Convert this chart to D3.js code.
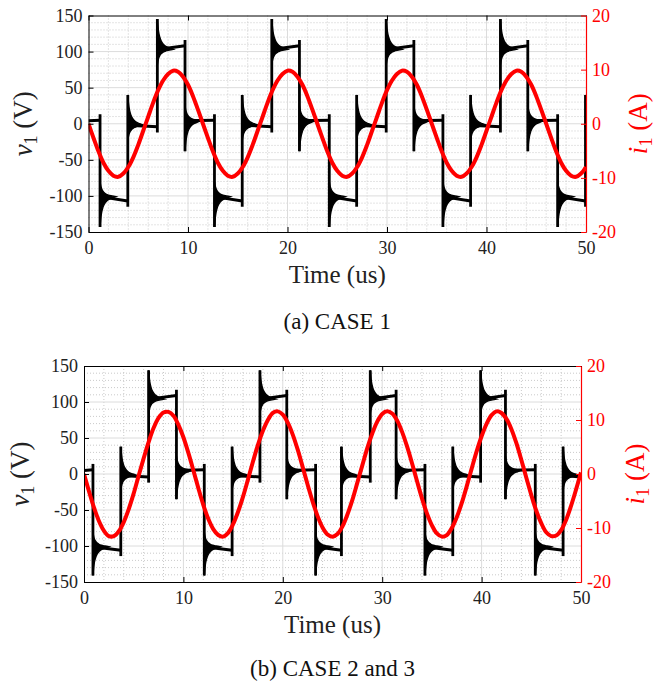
<!DOCTYPE html>
<html>
<head>
<meta charset="utf-8">
<script src="https://cdn.jsdelivr.net/npm/d3@7"></script>
<style>
  body { margin: 0; background: #fff; }
  svg { display: block; }
  text { font-family: "Liberation Serif", "DejaVu Serif", serif; }
</style>
</head>
<body>
<svg id="Target" width="656" height="683"></svg>
<script>
// Axis ticks shared by both panels
const timeTicks = [0, 10, 20, 30, 40, 50];
const voltTicks = [-150, -100, -50, 0, 50, 100, 150];
const currTicks = [-20, -10, 0, 10, 20];

// Current samples are read every 0.5 us from 0 to 50 us
const sampleStep = 0.5;

// CASE 1: i1 (A)
const current1 = [
  0, -2.6, -5.1, -7.2, -8.7, -9.6, -9.8, -9.2, -8.0, -6.2, -3.9, -1.3, 1.3, 3.9, 6.2, 8.0, 9.2, 9.8, 9.6, 8.7, 7.2, 5.1, 2.6,
  0, -2.6, -5.1, -7.2, -8.7, -9.6, -9.8, -9.2, -8.0, -6.2, -3.9, -1.3, 1.3, 3.9, 6.2, 8.0, 9.2, 9.8, 9.6, 8.7, 7.2, 5.1, 2.6,
  0, -2.6, -5.1, -7.2, -8.7, -9.6, -9.8, -9.2, -8.0, -6.2, -3.9, -1.3, 1.3, 3.9, 6.2, 8.0, 9.2, 9.8, 9.6, 8.7, 7.2, 5.1, 2.6,
  0, -2.6, -5.1, -7.2, -8.7, -9.6, -9.8, -9.2, -8.0, -6.2, -3.9, -1.3, 1.3, 3.9, 6.2, 8.0, 9.2, 9.8, 9.6, 8.7, 7.2, 5.1, 2.6,
  0, -2.6, -5.1, -7.2, -8.7, -9.6, -9.8, -9.2, -8.0
];

// CASE 2 and 3: i1 (A)
const current2 = [
  0, -3.2, -6.2, -8.7, -10.5, -11.5, -11.5, -10.6, -8.9, -6.5, -3.6, -0.3, 2.9, 5.9, 8.5, 10.4, 11.4, 11.5, 10.8, 9.1,
  6.8, 3.9, 0.7, -2.6, -5.7, -8.3, -10.2, -11.3, -11.6, -10.9, -9.3, -7.0, -4.2, -1.0, 2.3, 5.4, 8.0, 10.0, 11.3, 11.6,
  11.0, 9.5, 7.3, 4.5, 1.3, -2.0, -5.1, -7.8, -9.9, -11.2, -11.6, -11.1, -9.7, -7.5, -4.8, -1.6, 1.6, 4.8, 7.5, 9.7,
  11.1, 11.6, 11.2, 9.9, 7.8, 5.1, 2.0, -1.3, -4.5, -7.3, -9.5, -11.0, -11.6, -11.3, -10.0, -8.0, -5.4, -2.3, 1.0, 4.2,
  7.0, 9.3, 10.9, 11.6, 11.3, 10.2, 8.3, 5.7, 2.6, -0.7, -3.9, -6.8, -9.1, -10.8, -11.5, -11.4, -10.4, -8.5, -5.9, -2.9,
  0.3
];

// Switching instants of v1 (us)
const edges1 = [1.16, 3.95, 6.92, 9.7, 12.66, 15.45, 18.42, 21.2, 24.2, 26.95,
  29.92, 32.7, 35.62, 38.4, 41.4, 44.15, 47.15, 49.95];
const edges2 = [0.9, 3.7, 6.5, 9.3, 12.1, 14.9, 17.7, 20.4, 23.3, 25.9,
  28.8, 31.4, 34.3, 37.1, 39.9, 42.4, 45.4, 48.2];

// Plateau level (V) at start / end of each state: zero (after fall), negative, zero (after rise), positive
const plateau1 = [[4, 5], [-101, -107], [-2, -4], [103, 108]];
const plateau2 = [[5, 6], [-101, -106], [-2, -4], [104, 109]];

// Overshoot at each switching edge (V)
const overshoot1 = 42;
const overshoot2 = 40;

// Decay of the ringing envelope after an edge
const ringOffsets = [0, 0.05, 0.12, 0.25, 0.4, 0.6, 0.85, 1.2, 1.6];
const ringDecay = [1, 0.8, 0.6, 0.4, 0.27, 0.17, 0.1, 0.05, 0];

const panels = [
  { left: 88.5, right: 586, top: 15.5, bottom: 232, edges: edges1, plateau: plateau1,
    overshoot: overshoot1, current: current1, caption: "(a) CASE 1", captionY: 329,
    vLabelX: 32, iLabelX: 647 },
  { left: 84, right: 581, top: 366, bottom: 582, edges: edges2, plateau: plateau2,
    overshoot: overshoot2, current: current2, caption: "(b) CASE 2 and 3", captionY: 676,
    vLabelX: 29, iLabelX: 644 }
];

const svg = d3.select("#Target");
const red = "#ff0000";
const serif = "'Liberation Serif', 'DejaVu Serif', serif";

panels.forEach((p, idx) => {
  const x = d3.scaleLinear().domain([0, 50]).range([p.left, p.right]);
  const yV = d3.scaleLinear().domain([-150, 150]).range([p.bottom, p.top]);
  const yI = d3.scaleLinear().domain([-20, 20]).range([p.bottom, p.top]);
  const midY = (p.top + p.bottom) / 2;

  const clipId = "clip" + idx;
  svg.append("clipPath").attr("id", clipId)
    .append("rect")
    .attr("x", p.left).attr("y", p.top)
    .attr("width", p.right - p.left).attr("height", p.bottom - p.top);

  const g = svg.append("g").attr("font-family", serif);

  // Minor grid, dotted
  const minorT = d3.range(0, 50.01, 2).filter(t => t % 10 !== 0);
  const minorV = d3.range(-150, 150.01, 10).filter(v => v % 50 !== 0);
  const grid = g.append("g");
  grid.selectAll("line.mt").data(minorT).join("line")
    .attr("x1", d => x(d)).attr("x2", d => x(d))
    .attr("y1", p.top).attr("y2", p.bottom)
    .attr("stroke", "#bdbdbd").attr("stroke-width", 0.8).attr("stroke-dasharray", "1,2");
  grid.selectAll("line.mv").data(minorV).join("line")
    .attr("x1", p.left).attr("x2", p.right)
    .attr("y1", d => yV(d)).attr("y2", d => yV(d))
    .attr("stroke", "#bdbdbd").attr("stroke-width", 0.8).attr("stroke-dasharray", "1,2");

  // Major grid, light solid
  grid.selectAll("line.jt").data(timeTicks.slice(1, -1)).join("line")
    .attr("x1", d => x(d)).attr("x2", d => x(d))
    .attr("y1", p.top).attr("y2", p.bottom)
    .attr("stroke", "#dcdcdc").attr("stroke-width", 1);
  grid.selectAll("line.jv").data(voltTicks.slice(1, -1)).join("line")
    .attr("x1", p.left).attr("x2", p.right)
    .attr("y1", d => yV(d)).attr("y2", d => yV(d))
    .attr("stroke", "#dcdcdc").attr("stroke-width", 1);

  // v1 waveform: plateaus, switching edges and ringing envelopes
  const wave = g.append("g").attr("clip-path", `url(#${clipId})`);
  const bounds = [0, ...p.edges, 50];
  const plateaus = bounds.slice(0, -1).map((t0, k) => {
    const [a, b] = p.plateau[k % 4];
    return [{ t: t0, v: a }, { t: bounds[k + 1], v: b }];
  });
  const edgeData = p.edges.map((t, j) => {
    const from = p.plateau[j % 4][1];
    const to = p.plateau[(j + 1) % 4][0];
    const dir = Math.sign(to - from);
    return { t, from: from - dir * 8, to: to + dir * p.overshoot, level: to, dir };
  });

  const lineV = d3.line().x(d => x(d.t)).y(d => yV(d.v));
  wave.selectAll("path.plateau").data(plateaus).join("path")
    .attr("d", lineV)
    .attr("fill", "none").attr("stroke", "#000").attr("stroke-width", 3);

  wave.selectAll("line.edge").data(edgeData).join("line")
    .attr("x1", d => x(d.t)).attr("x2", d => x(d.t))
    .attr("y1", d => yV(d.from)).attr("y2", d => yV(d.to))
    .attr("stroke", "#000").attr("stroke-width", 2.8);

  const ringArea = d3.area()
    .x(d => x(d.t)).y0(d => yV(d.lo)).y1(d => yV(d.hi))
    .curve(d3.curveMonotoneX);
  const rings = edgeData.map(e => ringOffsets.map((o, m) => ({
    t: e.t + o,
    hi: e.level + e.dir * p.overshoot * ringDecay[m],
    lo: e.level - e.dir * p.overshoot * 0.5 * ringDecay[m]
  })));
  wave.selectAll("path.ring").data(rings).join("path")
    .attr("d", ringArea)
    .attr("fill", "#000").attr("stroke", "#000").attr("stroke-width", 1.4);

  // i1 waveform
  const lineI = d3.line()
    .x((d, k) => x(k * sampleStep)).y(d => yI(d))
    .curve(d3.curveCatmullRom);
  g.append("path").datum(p.current)
    .attr("clip-path", `url(#${clipId})`)
    .attr("d", lineI)
    .attr("fill", "none").attr("stroke", red).attr("stroke-width", 4)
    .attr("stroke-linejoin", "round");

  // Axes (ticks pointing inwards)
  const axB = g.append("g").attr("transform", `translate(0,${p.bottom})`)
    .call(d3.axisBottom(x).tickValues(timeTicks).tickSizeInner(-5).tickSizeOuter(0).tickPadding(9));
  const axT = g.append("g").attr("transform", `translate(0,${p.top})`)
    .call(d3.axisTop(x).tickValues(timeTicks).tickSizeInner(-5).tickSizeOuter(0).tickFormat(""));
  const axL = g.append("g").attr("transform", `translate(${p.left},0)`)
    .call(d3.axisLeft(yV).tickValues(voltTicks).tickSizeInner(-5).tickSizeOuter(0).tickPadding(6));
  const axR = g.append("g").attr("transform", `translate(${p.right},0)`)
    .call(d3.axisRight(yI).tickValues(currTicks).tickSizeInner(-5).tickSizeOuter(0).tickPadding(6));

  [axB, axT, axL, axR].forEach(a => a.attr("font-family", serif));
  [axB, axT, axL].forEach(a => {
    a.select(".domain").attr("stroke", "#000").attr("stroke-width", 1);
    a.selectAll(".tick line").attr("stroke", "#000");
    a.selectAll(".tick text").attr("fill", "#222").attr("font-size", 18);
  });
  axR.select(".domain").attr("stroke", red).attr("stroke-width", 1.2);
  axR.selectAll(".tick line").attr("stroke", red);
  axR.selectAll(".tick text").attr("fill", red).attr("font-size", 18);
  axL.selectAll(".tick text").text(d => d3.format("d")(d).replace("\u2212", "-"));
  axR.selectAll(".tick text").text(d => d3.format("d")(d).replace("\u2212", "-"));

  // Axis titles
  g.append("text")
    .attr("x", (p.left + p.right) / 2).attr("y", p.bottom + 51)
    .attr("text-anchor", "middle").attr("font-size", 25).attr("fill", "#222")
    .text("Time (us)");

  const vLab = g.append("text")
    .attr("transform", `translate(${p.vLabelX},${midY}) rotate(-90)`)
    .attr("text-anchor", "middle").attr("font-size", 27).attr("fill", "#222");
  vLab.append("tspan").attr("font-style", "italic").text("v");
  vLab.append("tspan").attr("font-size", 18).attr("dy", 5).text("1");
  vLab.append("tspan").attr("dy", -5).text(" (V)");

  const iLab = g.append("text")
    .attr("transform", `translate(${p.iLabelX},${midY}) rotate(-90)`)
    .attr("text-anchor", "middle").attr("font-size", 27).attr("fill", red);
  iLab.append("tspan").attr("font-style", "italic").text("i");
  iLab.append("tspan").attr("font-size", 18).attr("dy", 5).text("1");
  iLab.append("tspan").attr("dy", -5).text(" (A)");

  // Caption
  g.append("text")
    .attr("x", (p.left + p.right) / 2).attr("y", p.captionY)
    .attr("text-anchor", "middle").attr("font-size", 23).attr("fill", "#111")
    .text(p.caption);
});
</script>
</body>
</html>
